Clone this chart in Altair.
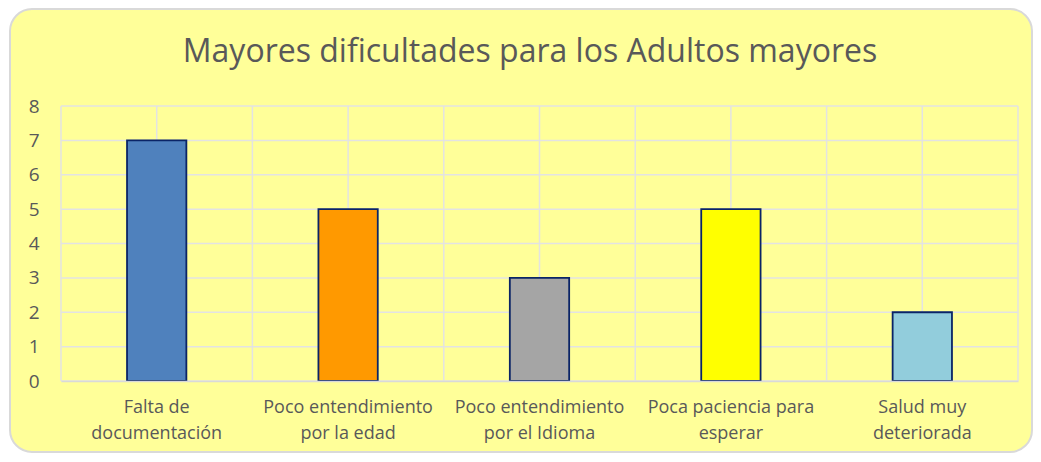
import altair as alt
import pandas as pd

title_text = "Mayores dificultades para los Adultos mayores"
categories = [
    "Falta de\ndocumentación",
    "Poco entendimiento\npor la edad",
    "Poco entendimiento\npor el Idioma",
    "Poca paciencia para\nesperar",
    "Salud muy\ndeteriorada",
]
values = [7, 5, 3, 5, 2]
colors = ["#4F81BD", "#FF9900", "#A5A5A5", "#FFFF00", "#92CDDC"]
y_ticks = [0, 1, 2, 3, 4, 5, 6, 7, 8]

df = pd.DataFrame({"cat": categories, "val": values})
df_y = pd.DataFrame({"tick": y_ticks})

FONT = "Open Sans"
GRID = "#E3E3E3"
xscale = alt.Scale(paddingInner=0, paddingOuter=0, domain=categories)
yscale = alt.Scale(domain=[0, 8], nice=False)

yaxis = alt.Axis(
    values=y_ticks,
    labelOverlap=False,
    labelFont=FONT,
    labelFontSize=19,
    labelColor="#595959",
    labelPadding=22,
    ticks=False,
    domain=False,
    grid=False,
    zindex=1,
)

# rounded chart frame (decoration only)
frame = alt.Chart(df).mark_rect(
    fill="#FFFF99", stroke="#D9D9D9", strokeWidth=2, cornerRadius=22
).encode(
    x=alt.value(-51), x2=alt.value(971), y=alt.value(-97), y2=alt.value(346)
).transform_filter("datum.val == 7")

title = alt.Chart(df).mark_text(
    text=title_text, font=FONT, fontSize=32, color="#595959",
    align="center", baseline="alphabetic"
).encode(x=alt.value(469), y=alt.value(-44)).transform_filter("datum.val == 7")

hgrid = alt.Chart(df_y).mark_rule(color=GRID, strokeWidth=1.5).encode(
    y=alt.Y("tick:Q", scale=yscale, title=None, axis=yaxis)
)
grid_start = alt.Chart(df).mark_rule(color=GRID, strokeWidth=1.5).encode(
    x=alt.X("cat:N", scale=xscale, bandPosition=0, sort=categories)
)
grid_mid = alt.Chart(df).mark_rule(color=GRID, strokeWidth=1.5).encode(
    x=alt.X("cat:N", scale=xscale, bandPosition=0.5, sort=categories)
)
grid_end = alt.Chart(df).mark_rule(color=GRID, strokeWidth=1.5).encode(
    x=alt.X("cat:N", scale=xscale, bandPosition=1, sort=categories)
).transform_filter(alt.FieldEqualPredicate(field="cat", equal=categories[-1]))

bars = alt.Chart(df).mark_bar(
    width=alt.RelativeBandSize(0.31), stroke="#0A2466", strokeWidth=1.8
).encode(
    x=alt.X(
        "cat:N",
        scale=xscale,
        sort=categories,
        title=None,
        axis=alt.Axis(
            labelAngle=0,
            labelAlign="center",
            labelBaseline="top",
            labelExpr="split(datum.label, '\\n')",
            labelFont=FONT,
            labelFontSize=18,
            labelColor="#595959",
            labelPadding=17,
            labelLineHeight=26,
            ticks=False,
            grid=False,
            domainColor="#D9D9D9",
            domainWidth=1.5,
            zindex=1,
        ),
    ),
    y=alt.Y("val:Q", scale=yscale, title=None, axis=yaxis),
    color=alt.Color("cat:N", scale=alt.Scale(domain=categories, range=colors), legend=None),
)

chart = (
    alt.layer(frame, hgrid, grid_start, grid_mid, grid_end, bars, title)
    .properties(
        width=957,
        height=275,
        padding={"left": 53, "top": 98, "right": 15, "bottom": 73},
        autosize=alt.AutoSizeParams(type="none"),
        background="white",
    )
    .configure_view(stroke=None)
)

chart.save("out.html", embed_options={"renderer": "svg", "actions": False})
